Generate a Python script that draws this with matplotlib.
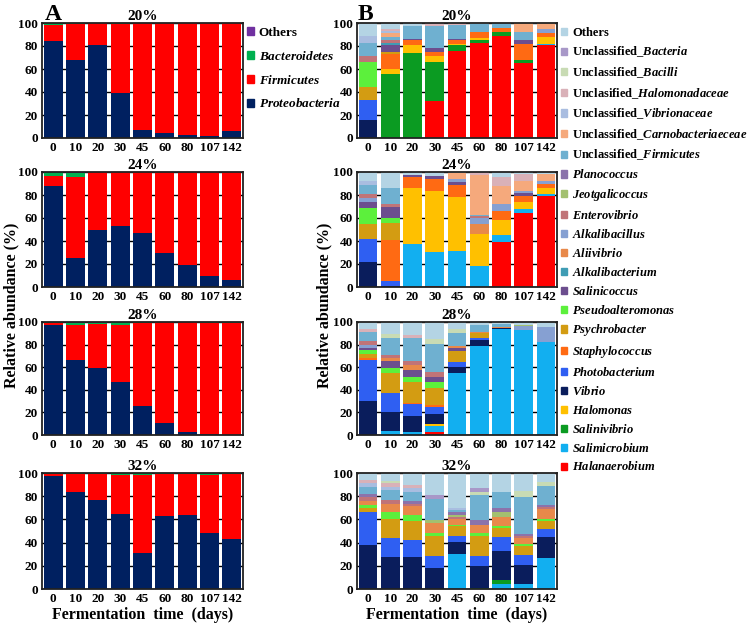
import matplotlib
matplotlib.use("Agg")
import matplotlib.pyplot as plt
from matplotlib.patches import Patch
import numpy as np

plt.rcParams["font.family"] = "Liberation Serif"
plt.rcParams["font.weight"] = "bold"
plt.rcParams["mathtext.fontset"] = "custom"
plt.rcParams["mathtext.rm"] = "Liberation Serif:bold"
plt.rcParams["mathtext.it"] = "Liberation Serif:italic:bold"

days = ["0", "10", "20", "30", "45", "60", "80", "107", "142"]
salts = ["20%", "24%", "28%", "32%"]

# panel A: phylum level
phyla = ["Proteobacteria", "Firmicutes", "Bacteroidetes", "Others"]
phyla_colors = ["#002060", "#ff0000", "#00b050", "#7030a0"]

a20 = [[84, 68, 81, 39, 7, 4, 3, 2, 6],
       [14, 31.5, 18.8, 60.5, 92.8, 95.7, 96.8, 97.7, 93.8],
       [1.8, 0.3, 0, 0.3, 0, 0, 0, 0, 0],
       [0.2, 0.2, 0.2, 0.2, 0.2, 0.3, 0.2, 0.3, 0.2]]
a24 = [[88, 25, 50, 53, 47, 30, 19, 10, 6],
       [8.5, 71, 49.7, 46.7, 52.8, 69.8, 80.8, 89.8, 93.8],
       [3.2, 3.5, 0, 0, 0, 0, 0, 0, 0],
       [0.3, 0.5, 0.3, 0.3, 0.2, 0.2, 0.2, 0.2, 0.2]]
a28 = [[97, 66, 59, 47, 26, 11, 3, 1, 0.3],
       [2.5, 31, 39, 50.5, 73.5, 88.8, 96.8, 98.5, 99.2],
       [0.2, 2, 1.2, 2.2, 0.3, 0, 0, 0.5, 0.5],
       [0.3, 1, 0.8, 0.3, 0.2, 0.2, 0.2, 0, 0]]
a32 = [[97, 84, 77, 65, 31, 63, 64, 48, 43],
       [2.5, 15.5, 22.5, 33, 67, 36.5, 35, 50.5, 56.5],
       [0.3, 0.3, 0.3, 1.8, 1.8, 0.3, 0.8, 1.3, 0.3],
       [0.2, 0.2, 0.2, 0.2, 0.2, 0.2, 0.2, 0.2, 0.2]]

# panel B: genus level, stacked bottom -> top
genera = ["Halanaerobium", "Salimicrobium", "Salinivibrio", "Halomonas", "Vibrio",
          "Photobacterium", "Staphylococcus", "Psychrobacter", "Pseudoalteromonas",
          "Salinicoccus", "Alkalibacterium", "Aliivibrio", "Alkalibacillus",
          "Enterovibrio", "Jeotgalicoccus", "Planococcus",
          "U_Firmicutes", "U_Carnobacteriaceae", "U_Vibrionaceae",
          "U_Halomonadaceae", "U_Bacilli", "U_Bacteria", "Others"]
genus_labels = [r"$\mathit{Halanaerobium}$", r"$\mathit{Salimicrobium}$",
                r"$\mathit{Salinivibrio}$", r"$\mathit{Halomonas}$", r"$\mathit{Vibrio}$",
                r"$\mathit{Photobacterium}$", r"$\mathit{Staphylococcus}$",
                r"$\mathit{Psychrobacter}$", r"$\mathit{Pseudoalteromonas}$",
                r"$\mathit{Salinicoccus}$", r"$\mathit{Alkalibacterium}$",
                r"$\mathit{Aliivibrio}$", r"$\mathit{Alkalibacillus}$",
                r"$\mathit{Enterovibrio}$", r"$\mathit{Jeotgalicoccus}$",
                r"$\mathit{Planococcus}$",
                r"Unclassified_$\mathit{Firmicutes}$",
                r"Unclassified_$\mathit{Carnobacteriaeceae}$",
                r"Unclassified_$\mathit{Vibrionaceae}$",
                r"Unclasified_$\mathit{Halomonadaceae}$",
                r"Unclassified_$\mathit{Bacilli}$",
                r"Unclassified_$\mathit{Bacteria}$",
                "Others"]
genus_colors = ["#ff0000", "#12aff0", "#0b9b22", "#ffc000", "#0a1d5c",
                "#2f5ff2", "#ff6a13", "#d39c12", "#5cf03c", "#6c4e8e",
                "#3f9cb4", "#e8894a", "#86a0d2", "#c07478", "#a3c070",
                "#8b73ab", "#6fb0d0", "#f5a97c", "#a9bde0", "#d9b1b8",
                "#c8dbb4", "#a898c8", "#b4d4e4"]

# one row per day, values in genera order
b20 = [[0, 0, 0, 0, 16, 17, 0, 11, 22, 0, 0, 0, 0, 5, 0, 0, 12, 0, 6, 0, 0, 0, 11],
       [0, 0, 56, 4, 0, 0, 13, 2, 0, 6, 2, 0, 0, 2, 0, 0, 3, 3, 2, 2, 0, 0, 5],
       [0, 0, 74, 7, 0, 0, 4, 0, 0, 1.5, 0, 0, 0, 0, 0, 0, 11, 0, 0, 0, 0, 0, 2.5],
       [32, 0, 34, 5, 0, 0, 4, 0, 0, 3, 0, 0, 0, 0, 0, 0, 19, 0, 0, 3, 0, 0, 0],
       [76, 0, 4.5, 1.5, 0, 0, 3, 0, 0, 1.5, 0, 0, 0, 0, 0, 0, 11.5, 0, 0, 2, 0, 0, 0],
       [83, 0, 2, 2, 0, 0, 5, 0, 0, 0, 0, 0, 0, 0, 0, 0, 7, 0, 0, 0, 0, 0, 1],
       [89, 0, 3, 0, 0, 0, 4, 0, 0, 0, 0, 0, 0, 0, 0, 0, 4, 0, 0, 0, 0, 0, 0],
       [65, 0, 3, 0, 0, 0, 13.5, 0, 0, 3.5, 0, 0, 0, 0, 0, 0, 7.5, 7.5, 0, 0, 0, 0, 0],
       [81, 1, 0, 5.5, 0, 0, 4, 0, 0, 0, 0, 0, 3, 0, 0, 0, 0, 5.5, 0, 0, 0, 0, 0]]
b24 = [[0, 0, 0, 0, 22, 20, 0, 13, 14, 5, 0, 0, 3, 4, 0, 0, 8, 0, 3, 0, 0, 0, 8],
       [0, 0, 0, 0, 1, 4, 36, 15, 4, 10, 0, 0, 0, 2, 0, 0, 14, 0, 0, 0, 0, 0, 14],
       [0, 37, 0, 49, 0, 0, 10, 0, 0, 1, 0, 0, 0, 0, 0, 0, 0, 0, 0, 0, 0, 0, 3],
       [0.5, 30, 0, 53, 0, 0, 10, 0, 0, 3, 0, 0, 0, 0, 0, 0, 0, 0, 0, 0, 0, 0, 3.5],
       [0, 31.5, 0, 46.5, 0, 0, 11, 0, 0, 2, 0, 0, 3, 0, 0, 0, 0, 5, 0, 0, 0, 0, 1],
       [0, 18, 0, 28, 0, 0, 0, 0, 0, 0, 0, 9, 5, 1.5, 0, 0, 1.5, 34.5, 0, 2.5, 0, 0, 0],
       [39, 6.5, 0, 13, 0, 0, 7.5, 0, 0, 0, 0, 0, 6, 0, 0, 0, 0, 16, 0, 8, 0, 0, 4],
       [64.5, 3.5, 0, 6, 0, 0, 5, 0, 0, 2.5, 0, 0, 2, 0, 0, 0, 0, 8.5, 0, 6, 0, 0, 2],
       [79, 2, 0, 5.5, 0, 0, 3.5, 0, 0, 0, 0, 0, 2.5, 0, 0, 0, 0, 6, 0, 0, 0, 0, 1.5]]
b28 = [[0, 0, 0, 0, 30, 36, 2, 4, 3, 2, 0, 0, 3, 3, 0, 0, 8, 0, 0, 3, 0, 0, 6],
       [0, 3.5, 0, 0, 16.5, 17, 0, 17.5, 5, 6, 0, 2.5, 0, 3, 0, 0, 15, 0, 0, 0, 3, 0, 11],
       [0, 3, 0, 0, 14, 10, 1.5, 18, 5, 6, 0, 4.5, 0, 3.5, 0, 0, 20, 0, 0, 3, 0, 0, 11.5],
       [3, 5.3, 0, 1, 9.7, 6, 1.5, 15.3, 4.7, 5, 0, 0, 0, 4.4, 0, 0, 25, 0, 0, 0, 4.4, 0, 14.7],
       [0, 54.5, 0, 0, 6, 4, 0, 9.5, 0, 3, 0, 1.5, 0, 0, 0, 0, 12, 0, 0, 0, 3.5, 0, 6],
       [0.5, 78.5, 0, 0, 5, 1.5, 0, 4.4, 0, 0, 0, 1.5, 0, 0, 0, 0, 6, 0, 0, 0, 0, 0, 2.6],
       [0, 94, 0, 0, 1, 0, 0, 0, 0, 0, 0, 1, 0, 0, 0, 0, 2, 0, 0, 0, 0, 0, 2],
       [0, 93, 0, 0, 0, 0, 0, 0, 0, 0, 0, 0, 3.5, 0, 1, 0, 0, 0, 0, 0, 0, 0, 2.5],
       [0, 82.5, 0, 0, 0, 0, 0, 0, 0, 0, 0, 0, 13.5, 0, 0, 0, 0, 0, 0, 0, 0, 0, 4]]
b32 = [[0, 0, 0, 0, 38, 28, 0, 4, 2, 0, 0, 4, 0, 3, 0, 3, 6, 0, 3, 3, 0, 0, 6],
       [0, 0, 0, 0, 28, 16, 0, 16, 6.5, 0, 0, 7, 0, 3.5, 0, 0, 8, 0, 3, 3, 2, 0, 7],
       [0, 0, 0, 0, 28, 14.5, 0, 16, 5, 0, 0, 8, 0, 2, 0, 2, 8.5, 0, 3, 3, 0, 0, 10],
       [0, 0, 0, 0, 18.5, 10, 0, 17, 3, 0, 0, 8, 0, 0, 3, 0, 18.5, 0, 0, 0, 0, 3, 19],
       [0, 30, 0, 0, 10.5, 5.5, 0, 8, 1.5, 0, 0, 4.5, 0, 2, 2, 2, 2, 0, 2, 0, 0, 0, 30],
       [0, 0, 0.5, 0, 19, 9, 0, 17, 3, 0, 0, 7, 0, 0, 0, 4, 21.5, 0, 0, 0, 3, 3, 13],
       [0, 4, 4, 0, 24.5, 12, 0, 8.5, 1.5, 0, 0, 8, 0, 0, 3.5, 3.5, 14.5, 0, 0, 0, 0, 0, 16],
       [0, 4, 0, 0, 17, 8.5, 0, 8, 1.5, 0, 0, 5, 0, 1.5, 0, 1.5, 32.5, 0, 0, 0, 5, 0, 15.5],
       [0, 26.5, 0, 0, 18, 7.5, 0, 7, 1.5, 0, 0, 8.5, 0, 1.5, 0, 2, 16, 0, 0, 0, 3.5, 0, 8]]

W, H = 754, 626
fig = plt.figure(figsize=(W / 100, H / 100), dpi=100)

# axes rows in pixels (top, bottom)
rows_px = [(23, 138), (172, 287), (322, 435), (473, 589)]
colA = (42, 243)
colB = (357, 557)


def make_ax(col, row):
    l, r = col
    t, b = row
    return fig.add_axes([l / W, 1 - b / H, (r - l) / W, (b - t) / H])


def style_ax(ax, title):
    x = np.arange(len(days))
    ax.set_xlim(-0.5, len(days) - 0.5)
    ax.set_ylim(0, 100)
    ax.set_yticks([0, 20, 40, 60, 80, 100])
    ax.set_xticks(x)
    ax.set_xticklabels(days)
    ax.tick_params(axis="both", length=0, labelsize=9.5, pad=3)
    ax.yaxis.grid(True, color="black", lw=1)
    ax.set_axisbelow(True)
    for s in ax.spines.values():
        s.set_linewidth(1.3)
        s.set_color("#222222")
    ax.set_title(title, fontsize=11, fontweight="bold", pad=2)


x = np.arange(len(days))
bw = 0.84

for k, data in enumerate([a20, a24, a28, a32]):
    ax = make_ax(colA, rows_px[k])
    bottom = np.zeros(len(days))
    for name, vals, c in zip(phyla, data, phyla_colors):
        vals = np.array(vals, dtype=float)
        ax.bar(x, vals, bw, bottom=bottom, color=c, label=name, linewidth=0)
        bottom += vals
    style_ax(ax, salts[k])
    if k == 0:
        handles = [Patch(color=c) for c in phyla_colors[::-1]]
        labels = ["Others", r"$\mathit{Bacteroidetes}$", r"$\mathit{Firmicutes}$",
                  r"$\mathit{Proteobacteria}$"]
        ax.legend(handles, labels, loc="upper left", bbox_to_anchor=(1.0, 1.0),
                  frameon=False, fontsize=9.5, handlelength=0.55, handleheight=0.55,
                  handletextpad=0.35, labelspacing=0.82, borderaxespad=0.2,
                  borderpad=0.1)

for k, data in enumerate([b20, b24, b28, b32]):
    ax = make_ax(colB, rows_px[k])
    arr = np.array(data, dtype=float).T
    bottom = np.zeros(len(days))
    for name, vals, c in zip(genera, arr, genus_colors):
        ax.bar(x, vals, bw, bottom=bottom, color=c, label=name, linewidth=0)
        bottom += vals
    style_ax(ax, salts[k])
    if k == 0:
        handles = [Patch(color=c) for c in genus_colors[::-1]]
        ax.legend(handles, genus_labels[::-1], loc="upper left",
                  bbox_to_anchor=(1.0, 1.0), frameon=False, fontsize=9,
                  handlelength=0.5, handleheight=0.5, handletextpad=0.4,
                  labelspacing=0.47, borderaxespad=0.2, borderpad=0.1)

fig.text(45 / W, 1 - 20 / H, "A", fontsize=17, fontweight="bold", va="baseline")
fig.text(358 / W, 1 - 20 / H, "B", fontsize=17, fontweight="bold", va="baseline")

for cx in [(colA[0] + colA[1]) / 2, (colB[0] + colB[1]) / 2]:
    fig.text(cx / W, 1 - 615 / H, "Fermentation  time  (days)", fontsize=11.5,
             fontweight="bold", ha="center", va="center")
fig.text(11 / W, 1 - 305 / H, "Relative abundance (%)", fontsize=11.5,
         fontweight="bold", rotation=90, ha="center", va="center")
fig.text(324 / W, 1 - 305 / H, "Relative abundance (%)", fontsize=11.5,
         fontweight="bold", rotation=90, ha="center", va="center")

fig.savefig("out.png", dpi=100)
